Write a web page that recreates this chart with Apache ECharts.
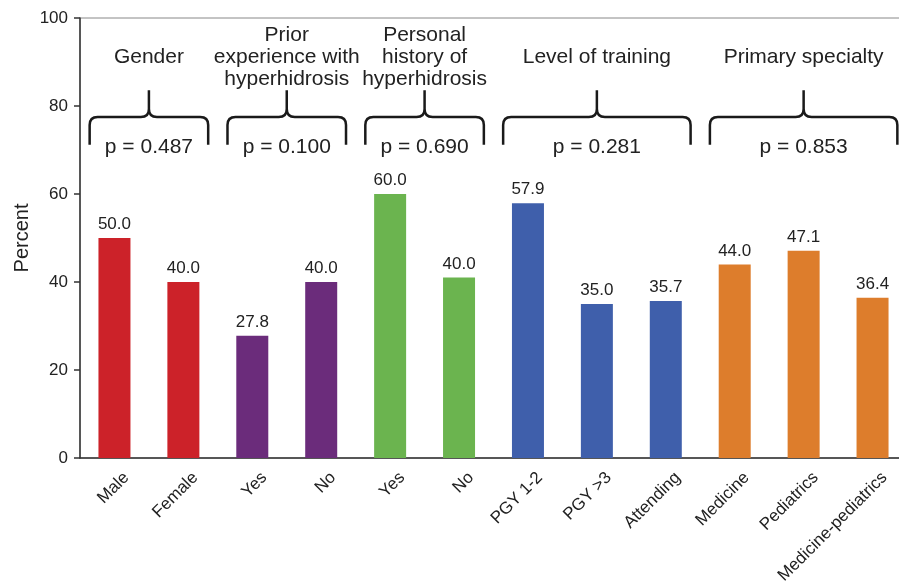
<!DOCTYPE html>
<html><head><meta charset="utf-8">
<script src="https://cdn.jsdelivr.net/npm/echarts@6/dist/echarts.min.js"></script>
<style>html,body{margin:0;padding:0;background:#fff}#c{width:899px;height:582px}</style>
</head><body><div id="c"></div>
<script>
const categories = ['Male','Female','Yes','No','Yes','No','PGY 1-2','PGY >3','Attending','Medicine','Pediatrics','Medicine-pediatrics'];
const percentValues = [50.0, 40.0, 27.8, 40.0, 60.0, 41.0, 57.9, 35.0, 35.7, 44.0, 47.1, 36.4];
const valueLabels = ['50.0','40.0','27.8','40.0','60.0','40.0','57.9','35.0','35.7','44.0','47.1','36.4'];
const groupOfCategory = [0,0,1,1,2,2,3,3,3,4,4,4];
const groupNames = ['Gender','Prior\nexperience with\nhyperhidrosis','Personal\nhistory of\nhyperhidrosis','Level of training','Primary specialty'];
const groupStart = [0,2,4,6,9];
const groupEnd = [1,3,5,8,11];
const pValues = ['p = 0.487','p = 0.100','p = 0.690','p = 0.281','p = 0.853'];
const groupColors = ['#CC2229','#6B2C7B','#6BB44F','#3F5FAB','#DD7D2C'];
const yMin = 0, yMax = 100, yStep = 20;

const FONT = '"Liberation Sans", Arial, sans-serif';
const TXT = '#222';
const chart = echarts.init(document.getElementById('c'), null, {renderer:'canvas'});

const barData = percentValues.map((v,i)=>({value:v, itemStyle:{color:groupColors[groupOfCategory[i]]}}));
const bracketData = groupStart.map((s,i)=>[s, groupEnd[i], 0]);

chart.setOption({
  animation:false,
  backgroundColor:'#fff',
  textStyle:{fontFamily:FONT},
  grid:{left:80, right:-8, top:18, bottom:124, show:true, borderColor:'#888', borderWidth:1, containLabel:false, outerBoundsMode:'none'},
  xAxis:{
    type:'category', data:categories,
    axisLine:{lineStyle:{color:'#333', width:1.5}},
    axisTick:{alignWithLabel:true, length:6, lineStyle:{color:'#333', width:1.5}},
    axisLabel:{rotate:45, interval:0, fontSize:17, color:TXT, fontFamily:FONT, margin:29, padding:[0,-17,0,0]},
    splitLine:{show:false}
  },
  yAxis:{
    type:'value', min:yMin, max:yMax, interval:yStep,
    axisLine:{show:true, lineStyle:{color:'#333', width:1.5}},
    axisTick:{show:true, length:6, lineStyle:{color:'#333', width:1.5}},
    axisLabel:{fontSize:17, color:TXT, margin:12, fontFamily:FONT},
    splitLine:{show:false},
    name:'Percent', nameLocation:'middle', nameRotate:90, nameGap:48, nameMoveOverlap:false,
    nameTextStyle:{fontSize:20, color:TXT, fontFamily:FONT}
  },
  series:[
    {
      type:'bar', data:barData, barWidth:32,
      label:{show:true, position:'top', distance:5, fontSize:17, color:TXT, fontFamily:FONT,
        formatter:p=>valueLabels[p.dataIndex]}
    },
    {
      type:'custom', data:bracketData, encode:{x:[0,1], y:2}, clip:false, silent:true, z:5,
      renderItem:function(params, api){
        const i = params.dataIndex;
        const band = api.size([1,0])[0];
        const L = api.coord([api.value(0),0])[0] - band*0.36;
        const R = api.coord([api.value(1),0])[0] + band*0.36;
        const M = (L+R)/2;
        const yH = api.coord([0,77.5])[1];
        const yE = api.coord([0,71.2])[1];
        const yS = api.coord([0,83.6])[1];
        const r = 8;
        const d = `M${L},${yE} L${L},${yH+r} Q${L},${yH} ${L+r},${yH} L${M-r},${yH} Q${M},${yH} ${M},${yH-r} L${M},${yS} M${M},${yH-r} Q${M},${yH} ${M+r},${yH} L${R-r},${yH} Q${R},${yH} ${R},${yH+r} L${R},${yE}`;
        return {type:'group', children:[
          {type:'path', shape:{pathData:d}, style:{fill:null, stroke:'#1a1a1a', lineWidth:2.5}},
          {type:'text', x:M, y:api.coord([0,91.2])[1], style:{text:groupNames[i], align:'center', verticalAlign:'middle', fontSize:21, lineHeight:22, fill:TXT, fontFamily:FONT}},
          {type:'text', x:M, y:api.coord([0,70.6])[1], style:{text:pValues[i], align:'center', verticalAlign:'middle', fontSize:21, fill:TXT, fontFamily:FONT}}
        ]};
      }
    }
  ]
});
</script></body></html>
